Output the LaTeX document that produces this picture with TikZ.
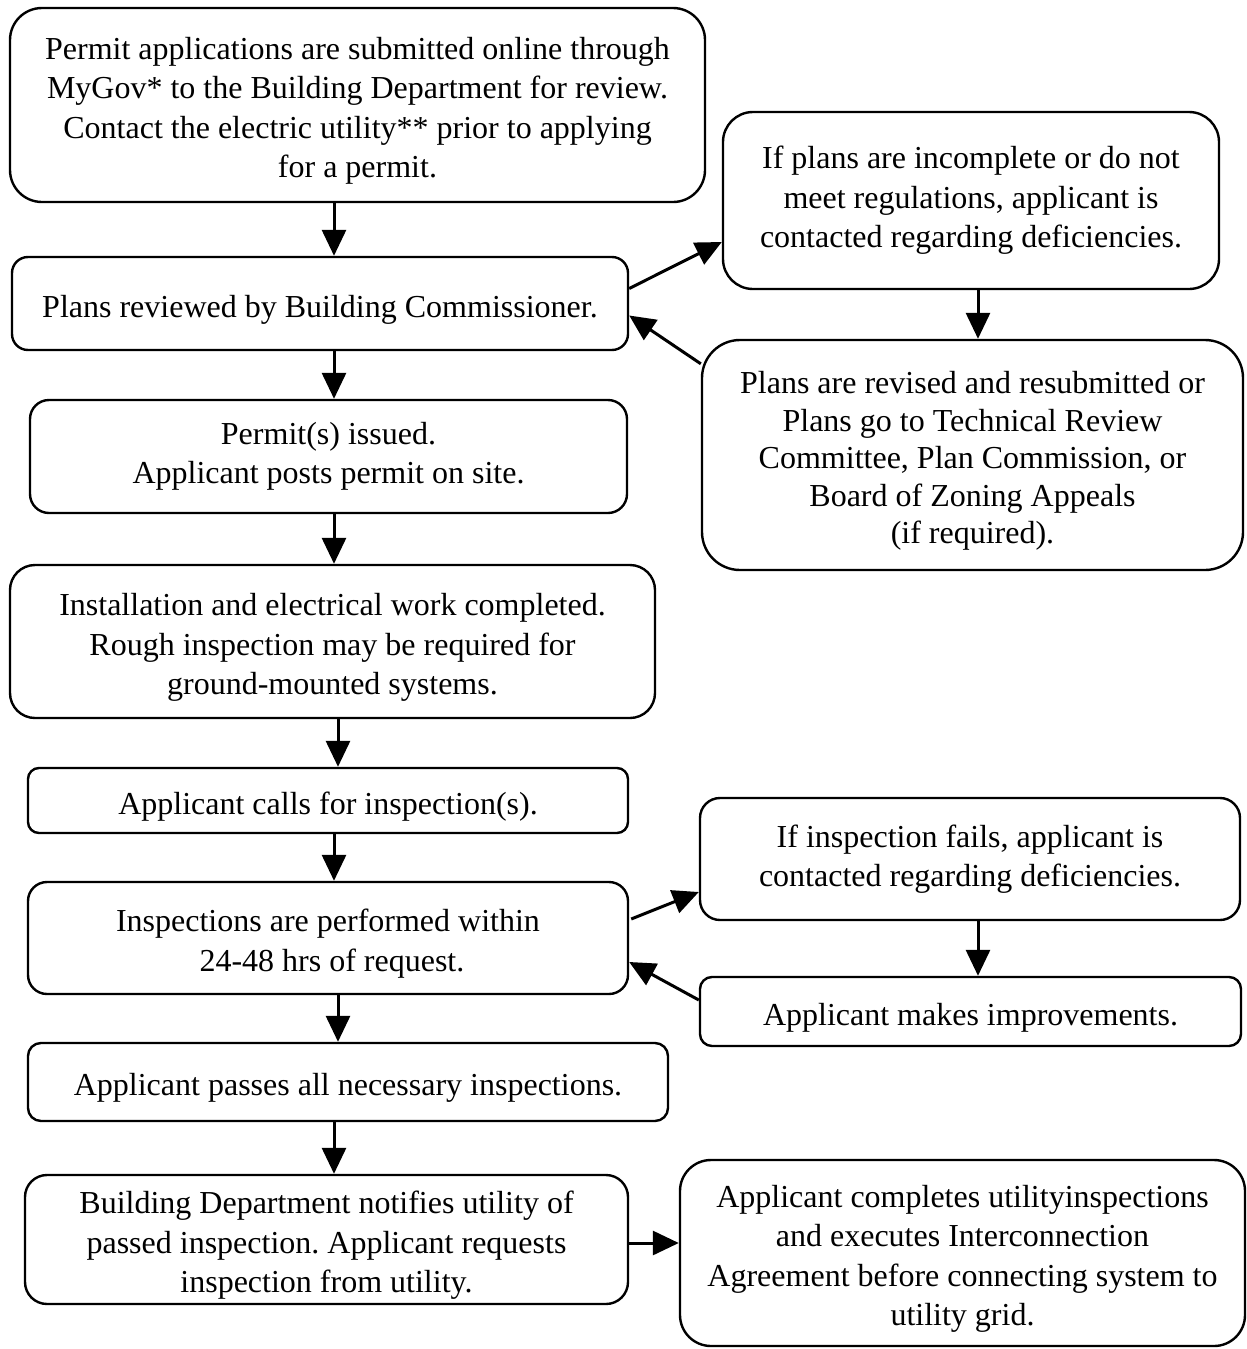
\documentclass[tikz,border=0pt]{standalone}
\usepackage{fontspec}
\setmainfont{Liberation Serif}
\usetikzlibrary{arrows.meta}
\frenchspacing

% pushes the first line down a little, like the inset of the boxes
\newcommand{\topgap}{\rule{0pt}{17pt}}

\tikzset{
  box/.style={draw, line width=1.2pt, rounded corners=#1, align=center, inner sep=0pt,
    font=\fontsize{16pt}{19.75pt}\selectfont},
  box/.default=8pt,
  arr/.style={line width=1.5pt, -{Triangle[length=13pt,width=12pt]}}
}

\begin{document}
\begin{tikzpicture}[x=0.5pt,y=-0.5pt]
\useasboundingbox (0,0) rectangle (1247,1349);

% columns for the down arrows
\coordinate (colA) at (334,0);
\coordinate (colB) at (338,0);
\coordinate (colR) at (978,0);

% main column
\node[box=16pt, minimum width=347.5pt, minimum height=97pt] (apply) at (357.5,105)
  {\topgap Permit applications are submitted online through\\
   MyGov* to the Building Department for review.\\
   Contact the electric utility** prior to applying\\
   for a permit.};
\node[box=8pt, minimum width=308pt, minimum height=46.5pt] (review) at (320,303.5)
  {\topgap Plans reviewed by Building Commissioner.};
\node[box=9.5pt, minimum width=298.5pt, minimum height=56.5pt] (issued) at (328.5,456.5)
  {Permit(s) issued.\\ Applicant posts permit on site.};
\node[box=12.5pt, minimum width=322.5pt, minimum height=76.5pt] (install) at (332.5,641.5)
  {\topgap Installation and electrical work completed.\\
   Rough inspection may be required for\\
   ground-mounted systems.};
\node[box=5.5pt, minimum width=300pt, minimum height=32.5pt] (calls) at (328,800.5)
  {\topgap Applicant calls for inspection(s).};
\node[box=9.5pt, minimum width=300pt, minimum height=56pt] (inspect) at (328,938)
  {\topgap Inspections are performed within\\ \ 24-48 hrs of request.};
\node[box=6.5pt, minimum width=320pt, minimum height=39pt] (passes) at (348,1082)
  {\topgap Applicant passes all necessary inspections.};
\node[box=11pt, minimum width=301.5pt, minimum height=64.5pt] (notify) at (326.5,1239.5)
  {\topgap Building Department notifies utility of\\
   passed inspection. Applicant requests\\
   inspection from utility.};

% side boxes
\node[box=15pt, minimum width=248pt, minimum height=88.5pt] (incomplete) at (971,200.5)
  {If plans are incomplete or do not\\
   meet regulations, applicant is\\
   contacted regarding deficiencies.};
\node[box=19pt, minimum width=270.5pt, minimum height=115pt,
      font=\fontsize{16pt}{18.75pt}\selectfont] (revised) at (972.5,455)
  {\topgap Plans are revised and resubmitted or\\
   Plans go to Technical Review\\
   Committee, Plan Commission, or\\
   Board of Zoning Appeals\\
   (if required).};
\node[box=10pt, minimum width=270pt, minimum height=61pt] (fails) at (970,859)
  {If inspection fails, applicant is\\
   contacted regarding deficiencies.};
\node[box=6pt, minimum width=270.5pt, minimum height=34.5pt] (improve) at (970.5,1011.5)
  {\topgap Applicant makes improvements.};
\node[box=15.5pt, minimum width=282.5pt, minimum height=93pt] (connect) at (962.5,1253)
  {\topgap Applicant completes utilityinspections\\
   and executes Interconnection\\
   Agreement before connecting system to\\
   utility grid.};

% down arrows
\draw[arr] (apply.south -| colA) -- (review.north -| colA);
\draw[arr] (review.south -| colA) -- (issued.north -| colA);
\draw[arr] (issued.south -| colA) -- (install.north -| colA);
\draw[arr] (install.south -| colB) -- (calls.north -| colB);
\draw[arr] (calls.south -| colA) -- (inspect.north -| colA);
\draw[arr] (inspect.south -| colB) -- (passes.north -| colB);
\draw[arr] (passes.south -| colA) -- (notify.north -| colA);
\draw[arr] (incomplete.south -| colR) -- (revised.north -| colR);
\draw[arr] (fails.south -| colR) -- (improve.north -| colR);

% loops to the side
\draw[arr] ([yshift=7.5pt]review.east) -- ([yshift=-20.75pt]incomplete.west);
\draw[arr] ([yshift=-12.5pt]revised.north west) -- ([yshift=-6pt]review.east);
\draw[arr] ([xshift=1pt,yshift=9.5pt]inspect.east) -- ([yshift=-16.5pt]fails.west);
\draw[arr] ([yshift=5.75pt]improve.west) -- ([yshift=-12pt]inspect.east);
\draw[arr] ([yshift=-1.75pt]notify.east) -- ([yshift=-1.75pt]notify.east -| connect.west);
\end{tikzpicture}
\end{document}
